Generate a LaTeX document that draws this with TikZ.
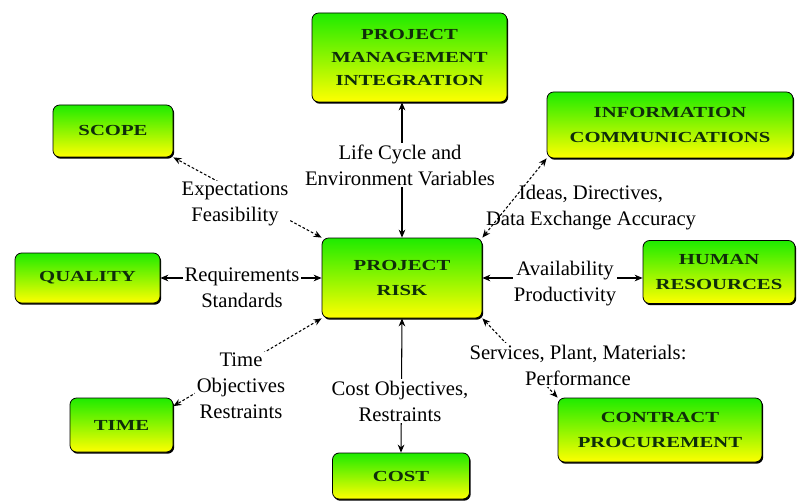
\documentclass[tikz,border=0pt]{standalone}
\usepackage{fontspec}
\setmainfont{Liberation Serif}
\newfontfamily\boxfont[FakeStretch=1.35]{Liberation Serif}
\usetikzlibrary{arrows.meta,shadows}

\definecolor{boxgreen}{RGB}{30,235,0}
\definecolor{boxmid}{RGB}{170,245,0}
\definecolor{boxyellow}{RGB}{255,255,0}
\definecolor{boxtext}{RGB}{15,45,10}

\tikzset{
  area/.style={draw=black, line width=0.6pt, rounded corners=5pt,
    top color=boxgreen, middle color=boxmid, bottom color=boxyellow,
    general shadow={fill=black, shadow xshift=0.9pt, shadow yshift=-1.3pt},
    align=center, text=boxtext, inner sep=0pt,
    font=\boxfont\bfseries\fontsize{11.5}{19}\selectfont},
  boxdim/.style 2 args={minimum width=#1*0.75pt, minimum height=#2*0.75pt},
  link/.style={<->, >={Stealth[length=6pt,width=5pt]}, line width=0.8pt},
  dia/.style={dash pattern=on 2pt off 1.5pt},
  lbl/.style={fill=white, align=center, inner sep=1pt,
    font=\fontsize{15.5}{19.5}\selectfont}
}

\begin{document}
\begin{tikzpicture}[x=0.75pt, y=-0.75pt]
  \useasboundingbox (0,0) rectangle (798,502);

  % knowledge areas
  \node[area, boxdim={195}{89}, font=\boxfont\bfseries\fontsize{11.5}{17}\selectfont]
    (pmi) at (409.5,57.5) {PROJECT\\MANAGEMENT\\INTEGRATION};
  \node[area, boxdim={246}{66}] (info) at (670,125) {INFORMATION\\COMMUNICATIONS};
  \node[area, boxdim={120}{52}] (scope) at (113,131) {SCOPE};
  \node[area, boxdim={145}{50}] (quality) at (87.5,278) {QUALITY};
  \node[area, boxdim={160}{80}] (risk) at (402,278) {PROJECT\\RISK};
  \node[area, boxdim={152}{63}] (human) at (719,272) {HUMAN\\RESOURCES};
  \node[area, boxdim={204}{64}] (contract) at (660,430) {CONTRACT\\PROCUREMENT};
  \node[area, boxdim={103}{54}] (time) at (121.5,425) {TIME};
  \node[area, boxdim={137}{46}] (cost) at (401,476) {COST};

  % links
  \draw[link] (risk.north) -- (risk.north |- pmi.south);
  \draw[link,dia] (risk.north west) -- (scope.south east);
  \draw[link,dia] (risk.north east) -- (info.south west);
  \draw[link] (risk.west) -- (quality.east);
  \draw[link] (risk.east) -- (risk.east -| human.west);
  \draw[link,dia] (risk.south west) -- (time.20);
  \draw[link] (risk.south) -- (cost.north);
  \draw[link,dia] (risk.south east) -- (contract.north west);

  % labels
  \node[lbl] (lifecycle) at (400,165) {Life Cycle and\\Environment Variables};
  \node[lbl] (expect) at (235,204) {Expectations\\Feasibility};
  \node[lbl, fill=none] (ideas) at (591,208) {Ideas, Directives,\\Data Exchange Accuracy};
  \node[lbl] (require) at (242,288) {Requirements\\Standards};
  \node[lbl] (avail) at (565,284) {Availability\\Productivity};
  \node[lbl] (services) at (578,365) {Services, Plant, Materials:\\Performance};
  \node[lbl] (timelbl) at (241,386) {Time\\Objectives\\Restraints};
  \node[lbl] (costlbl) at (400,401) {Cost Objectives,\\Restraints};
\end{tikzpicture}
\end{document}
